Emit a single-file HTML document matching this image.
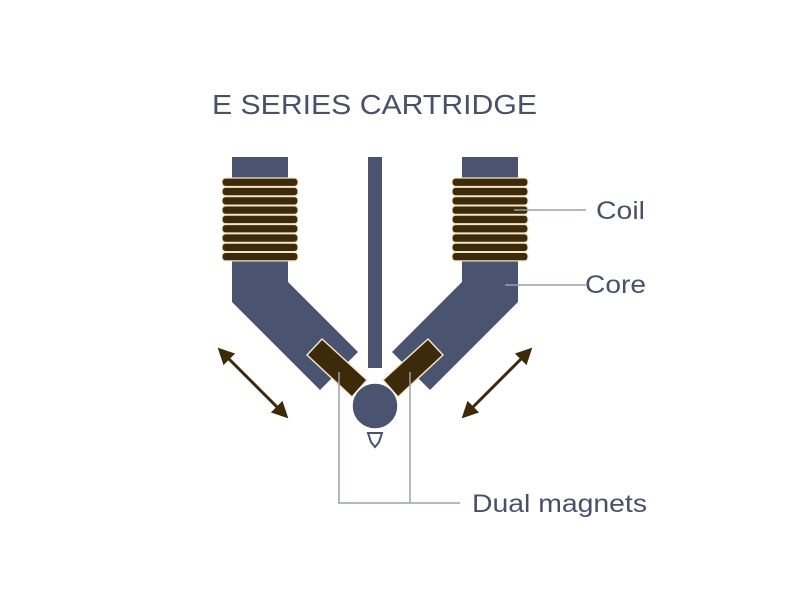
<!DOCTYPE html>
<html><head><meta charset="utf-8"><style>html,body{margin:0;padding:0;background:#fff}svg{display:block}</style></head>
<body>
<svg width="800" height="600" viewBox="0 0 800 600" xmlns="http://www.w3.org/2000/svg" font-family="Liberation Sans, sans-serif">
<defs>
<marker id="ah" viewBox="0 0 10 10" refX="8" refY="5" markerWidth="5.5" markerHeight="5.5" orient="auto-start-reverse"><path d="M0,0 L10,5 L0,10 Z" fill="#3d2a0a"/></marker>
<g id="side">
<rect x="232" y="157" width="56" height="22" fill="#4a5370"/>
<polygon points="232,258 288,258 288,282 358,352 320,390 232,302" fill="#4a5370"/>
<g fill="#3d2a0a" stroke="#f3e6c8" stroke-width="1.2">
<rect x="222" y="178" width="76" height="8.5" rx="3.5"/>
<rect x="222" y="187.3" width="76" height="8.5" rx="3.5"/>
<rect x="222" y="196.6" width="76" height="8.5" rx="3.5"/>
<rect x="222" y="205.9" width="76" height="8.5" rx="3.5"/>
<rect x="222" y="215.2" width="76" height="8.5" rx="3.5"/>
<rect x="222" y="224.5" width="76" height="8.5" rx="3.5"/>
<rect x="222" y="233.8" width="76" height="8.5" rx="3.5"/>
<rect x="222" y="243.1" width="76" height="8.5" rx="3.5"/>
<rect x="222" y="252.4" width="76" height="8.5" rx="3.5"/>
</g>
<polygon points="307,355 322,339 367,380 352,397" fill="#3d2a0a" stroke="#f3e6c8" stroke-width="1.5"/>
</g>
</defs>
<text x="212" y="114" font-size="28" fill="#4a5068" textLength="325" lengthAdjust="spacingAndGlyphs">E SERIES CARTRIDGE</text>
<use href="#side"/>
<use href="#side" transform="translate(750,0) scale(-1,1)"/>
<rect x="368" y="157" width="14" height="211" fill="#4a5370"/>
<circle cx="375" cy="406" r="23" fill="#4a5370" stroke="#fff" stroke-width="1.5"/>
<path d="M368,433 L382,433 L379,442 L375,447 L371,442 Z" fill="#fff" stroke="#4a5370" stroke-width="2"/>
<line x1="220" y1="350" x2="286" y2="416" stroke="#3d2a0a" stroke-width="3" marker-start="url(#ah)" marker-end="url(#ah)"/>
<line x1="530" y1="350" x2="464" y2="416" stroke="#3d2a0a" stroke-width="3" marker-start="url(#ah)" marker-end="url(#ah)"/>
<g stroke="#9aa0ad" stroke-width="1.5" fill="none">
<line x1="514" y1="210" x2="586" y2="210"/>
<line x1="505" y1="285" x2="586" y2="285"/>
<polyline points="339,372 339,503 460,503"/>
<line x1="410" y1="372" x2="410" y2="503"/>
</g>
<g fill="#4a5068" font-size="25">
<text x="596" y="219" textLength="49" lengthAdjust="spacingAndGlyphs">Coil</text>
<text x="585" y="293" textLength="61" lengthAdjust="spacingAndGlyphs">Core</text>
<text x="472" y="512" textLength="175" lengthAdjust="spacingAndGlyphs">Dual magnets</text>
</g>
</svg>
</body></html>
